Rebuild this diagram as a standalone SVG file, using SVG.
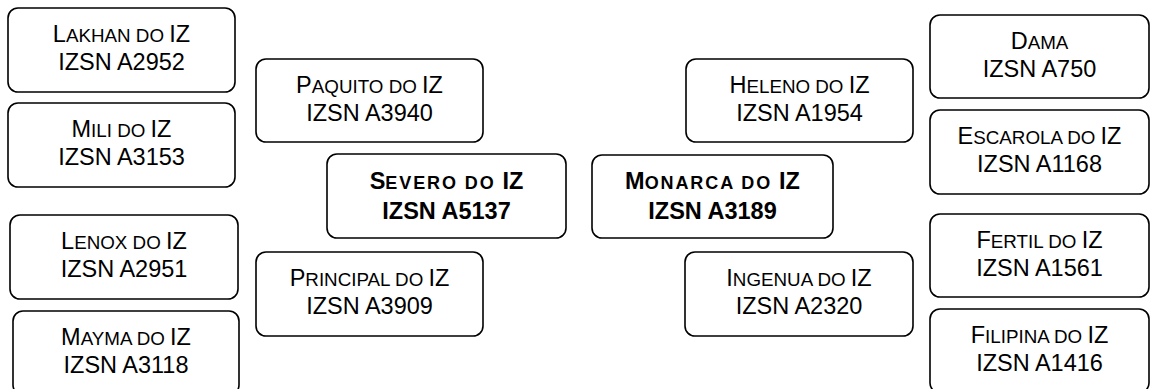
<svg xmlns="http://www.w3.org/2000/svg" width="1150" height="389" viewBox="0 0 1150 389">
<style>
.box{fill:#fff;stroke:#000;stroke-width:1.6}
.t{font-family:"Liberation Sans",Arial,sans-serif;font-size:23.5px;text-anchor:middle;fill:#000}
.sc{font-size:18.8px}
.b{font-weight:bold}
.b .sc{font-size:18px;letter-spacing:1.9px}
</style>
<rect width="1150" height="389" fill="#fff"/>
<g id="connectors"/>
<g id="lakhan"><rect class="box" x="8" y="8" width="227" height="84" rx="10"/>
<text class="t" x="121.5" y="42">L<tspan class="sc">AKHAN DO </tspan>IZ</text>
<text class="t" x="121.5" y="70">IZSN A2952</text></g>
<g id="mili"><rect class="box" x="8" y="103" width="227" height="84" rx="10"/>
<text class="t" x="121.5" y="137">M<tspan class="sc">ILI DO </tspan>IZ</text>
<text class="t" x="121.5" y="165">IZSN A3153</text></g>
<g id="lenox"><rect class="box" x="10" y="215" width="228" height="84" rx="10"/>
<text class="t" x="124" y="249">L<tspan class="sc">ENOX DO </tspan>IZ</text>
<text class="t" x="124" y="277">IZSN A2951</text></g>
<g id="mayma"><rect class="box" x="13" y="311" width="226" height="84" rx="10"/>
<text class="t" x="126" y="345">M<tspan class="sc">AYMA DO </tspan>IZ</text>
<text class="t" x="126" y="373">IZSN A3118</text></g>
<g id="paquito"><rect class="box" x="256" y="59" width="227" height="83" rx="10"/>
<text class="t" x="369.5" y="93">P<tspan class="sc">AQUITO DO </tspan>IZ</text>
<text class="t" x="369.5" y="121">IZSN A3940</text></g>
<g id="principal"><rect class="box" x="256" y="252" width="227" height="84" rx="10"/>
<text class="t" x="369.5" y="286">P<tspan class="sc">RINCIPAL DO </tspan>IZ</text>
<text class="t" x="369.5" y="314">IZSN A3909</text></g>
<g id="severo"><rect class="box" x="327" y="154" width="239" height="84" rx="10"/>
<text class="t b" x="446.5" y="189">S<tspan class="sc">EVERO DO </tspan>IZ</text>
<text class="t b" x="446.5" y="219">IZSN A5137</text></g>
<g id="monarca"><rect class="box" x="592" y="155" width="241" height="83" rx="10"/>
<text class="t b" x="712.5" y="189">M<tspan class="sc">ONARCA DO </tspan>IZ</text>
<text class="t b" x="712.5" y="219">IZSN A3189</text></g>
<g id="heleno"><rect class="box" x="686" y="59" width="227" height="83" rx="10"/>
<text class="t" x="799.5" y="93">H<tspan class="sc">ELENO DO </tspan>IZ</text>
<text class="t" x="799.5" y="121">IZSN A1954</text></g>
<g id="ingenua"><rect class="box" x="685" y="252" width="228" height="84" rx="10"/>
<text class="t" x="799" y="286">I<tspan class="sc">NGENUA DO </tspan>IZ</text>
<text class="t" x="799" y="314">IZSN A2320</text></g>
<g id="dama"><rect class="box" x="930" y="15" width="219" height="83" rx="10"/>
<text class="t" x="1039.5" y="49">D<tspan class="sc">AMA</tspan></text>
<text class="t" x="1039.5" y="77">IZSN A750</text></g>
<g id="escarola"><rect class="box" x="930" y="110" width="219" height="84" rx="10"/>
<text class="t" x="1039.5" y="144">E<tspan class="sc">SCAROLA DO </tspan>IZ</text>
<text class="t" x="1039.5" y="172">IZSN A1168</text></g>
<g id="fertil"><rect class="box" x="930" y="214" width="219" height="83" rx="10"/>
<text class="t" x="1039.5" y="248">F<tspan class="sc">ERTIL DO </tspan>IZ</text>
<text class="t" x="1039.5" y="276">IZSN A1561</text></g>
<g id="filipina"><rect class="box" x="930" y="309" width="219" height="84" rx="10"/>
<text class="t" x="1039.5" y="343">F<tspan class="sc">ILIPINA DO </tspan>IZ</text>
<text class="t" x="1039.5" y="371">IZSN A1416</text></g>
</svg>
